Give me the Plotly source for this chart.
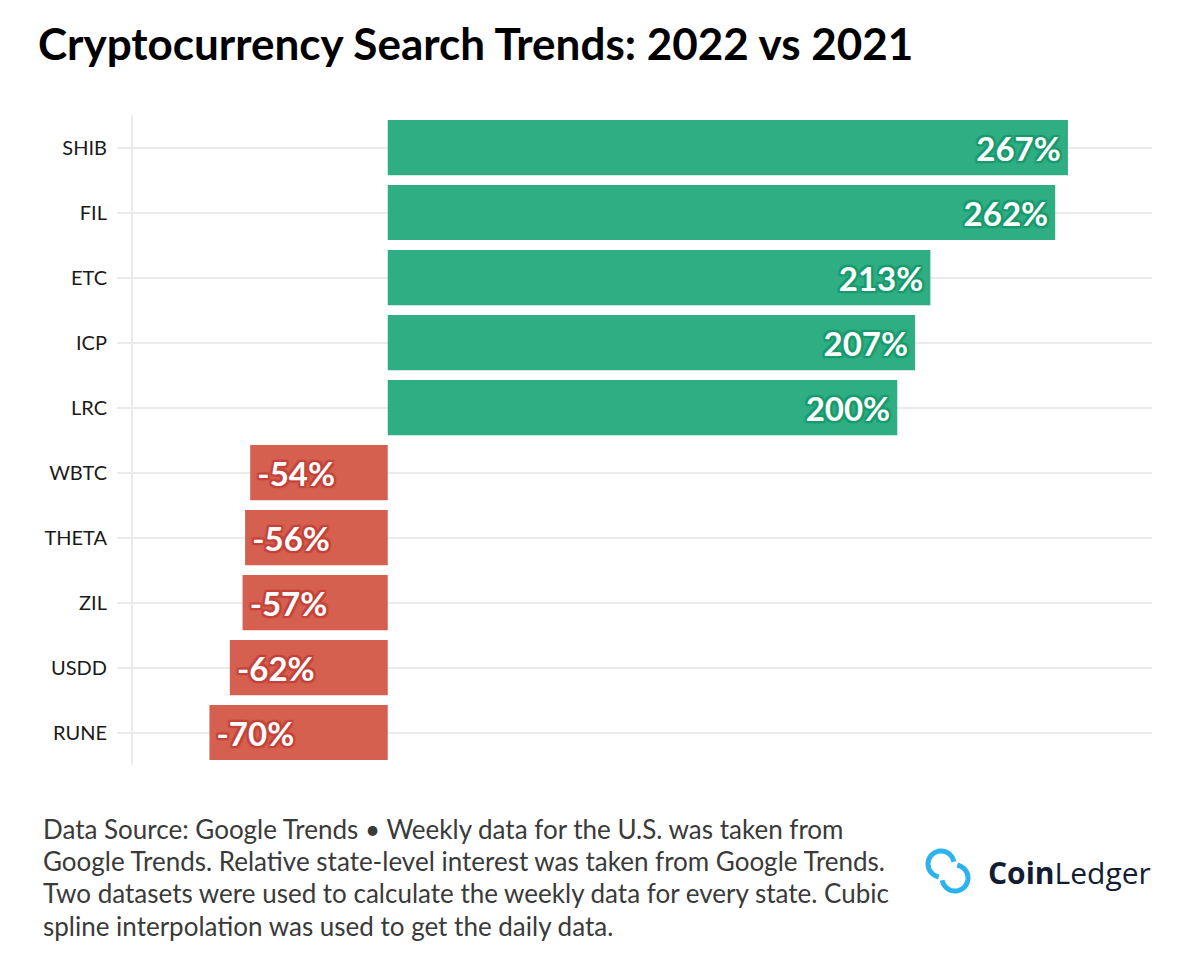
import numpy as np
import plotly.graph_objects as go

# ---- data ----
coins = ["SHIB", "FIL", "ETC", "ICP", "LRC", "WBTC", "THETA", "ZIL", "USDD", "RUNE"]
change_pct = [267, 262, 213, 207, 200, -54, -56, -57, -62, -70]
labels = [f"{v}%" for v in change_pct]

title_text = "Cryptocurrency Search Trends: 2022 vs 2021"
footnote_lines = [
    "Data Source: Google Trends \u2022 Weekly data for the U.S. was taken from",
    "Google Trends. Relative state-level interest was taken from Google Trends.",
    "Two datasets were used to calculate the weekly data for every state. Cubic",
    "spline interpolation was used to get the daily data.",
]

GREEN = "#2fae84"
GREEN_STROKE = "#1a9a6e"
RED = "#d5604f"
RED_STROKE = "#c4433a"

OFF = 8  # page body margin
W, H = 1200 - OFF, 965 - OFF
PL, PR, PT, PB = 133, 1152, 115, 765  # plot area in reference pixel coords
L, R, T, B = PL - OFF, 1200 - PR, PT - OFF, 965 - PB
PW, PH = PR - PL, PB - PT


def px2paper(px, py):
    return (px - PL) / PW, (PB - py) / PH


def stroke(c, d=2):
    offs = [(d, 0), (-d, 0), (0, d), (0, -d), (d, d), (-d, -d), (d, -d), (-d, d)]
    return ", ".join(f"{a}px {b}px 1px {c}" for a, b in offs)


fig = go.Figure()
for sign_pos in (True, False):
    idx = [i for i, v in enumerate(change_pct) if (v >= 0) == sign_pos]
    pad = "\u2009"
    fig.add_trace(go.Bar(
        x=[change_pct[i] for i in idx],
        y=[coins[i] for i in idx],
        orientation="h",
        marker=dict(color=GREEN if sign_pos else RED, line=dict(width=0)),
        text=[(labels[i] + pad) if sign_pos else (pad + labels[i]) for i in idx],
        textposition="inside",
        insidetextanchor="end",
        textangle=0,
        insidetextfont=dict(family="Lato", size=33, color="white", weight="bold",
                            shadow=stroke(GREEN_STROKE if sign_pos else RED_STROKE)),
        cliponaxis=False,
        hoverinfo="skip",
        showlegend=False,
    ))

fig.update_layout(
    width=W, height=H,
    margin=dict(l=L, r=R, t=T, b=B, autoexpand=False),
    paper_bgcolor="white", plot_bgcolor="white",
    bargap=0.15,
    font=dict(family="Lato", color="#222"),
    title=dict(text=f"<b>{title_text}</b>", xref="container", yref="container",
               x=(38 - OFF) / W, xanchor="left", y=1 - (45 - OFF) / H, yanchor="middle",
               font=dict(family="Lato", size=44, color="black", weight=900)),
    xaxis=dict(range=[-100, 300], showgrid=False, zeroline=False, showticklabels=False,
               ticks="", showline=False, fixedrange=True),
    yaxis=dict(categoryorder="array", categoryarray=coins, autorange="reversed",
               showgrid=True, gridcolor="#ebebeb", gridwidth=2,
               showline=True, linecolor="#ebebeb", linewidth=2,
               ticks="outside", ticklen=14, tickcolor="#ebebeb", tickwidth=2,
               tickfont=dict(family="Lato", size=20, color="#1a1a1a"),
               ticklabelstandoff=6, zeroline=False),
)

# footnote
ys = [829, 861, 893, 926]
for line, yy in zip(footnote_lines, ys):
    xp, yp = px2paper(41, yy)
    fig.add_annotation(text=line, xref="paper", yref="paper", x=xp, y=yp,
                       xanchor="left", yanchor="middle", showarrow=False,
                       font=dict(family="Lato", size=26, color="#3a3a3a"))

# logo text
xp, yp = px2paper(986, 872)
fig.add_annotation(text="<b>Coin</b>Ledger", xref="paper", yref="paper", x=xp, y=yp,
                   xanchor="left", yanchor="middle", showarrow=False,
                   font=dict(family="Open Sans", size=30, color="#121c33"))

# logo icon: two interlocked "C" arcs
for (cx, cy, a0, a1) in ((941, 864, 100, 350), (955, 878, -80, 170)):
    t = np.radians(np.linspace(a0, a1, 50))
    pts = [px2paper(cx + 13 * np.cos(a), cy + 13 * np.sin(a)) for a in t]
    path = "M " + " L ".join(f"{a:.5f},{b:.5f}" for a, b in pts)
    fig.add_shape(type="path", path=path, xref="paper", yref="paper",
                  line=dict(color="#2bb3ee", width=5))

fig.write_html("out.html")
